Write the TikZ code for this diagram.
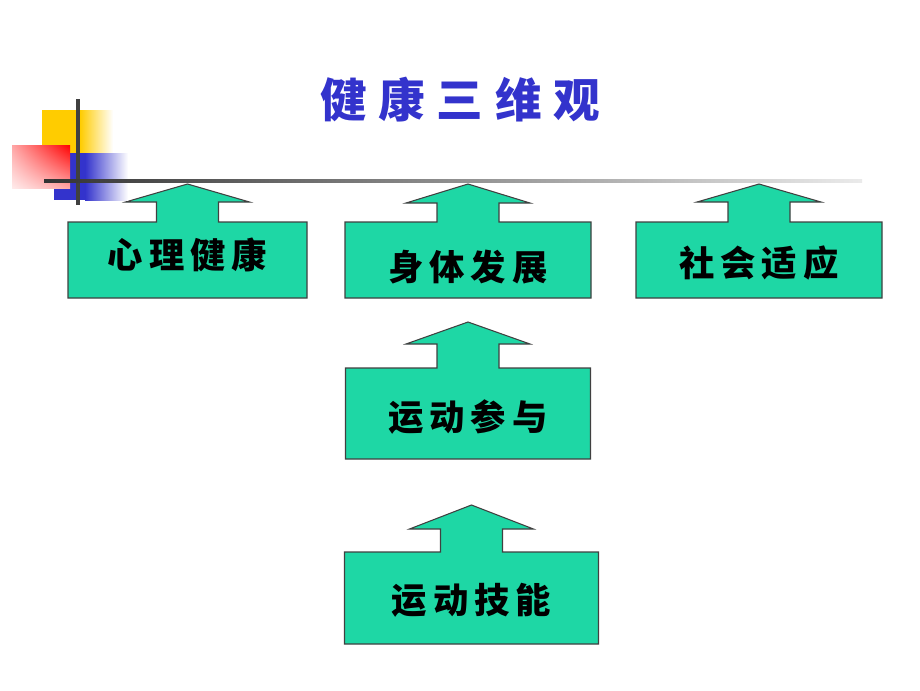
\documentclass[tikz,border=0pt]{standalone}
\usepackage{fontspec}
\newfontfamily\cjk{Noto Sans CJK SC}[BoldFont={Noto Sans CJK SC Black}]
\usetikzlibrary{positioning, calc, backgrounds, shadings}
\definecolor{boxgreen}{RGB}{30,215,165}
\definecolor{titleblue}{RGB}{51,51,204}
\definecolor{decoyellow}{RGB}{255,204,0}
\definecolor{decoblue}{RGB}{51,51,204}
\newcommand\arrowbox[3]{%
  \begin{scope}[on background layer]
  \draw[boxline](#1.south west)--(#1.north west)--($(#1.north)+(-31,0)$)
    --++(0,-#2)--++(-31,0)--($(#1.north)+(0,-#2-#3)$)--($(#1.north)+(62,-#2)$)
    --++(-31,0)--($(#1.north)+(31,0)$)--(#1.north east)--(#1.south east)--cycle;
  \end{scope}}

\begin{document}
\begin{tikzpicture}[x=0.75pt,y=-0.75pt,
    every node/.style={inner sep=0,outer sep=0},
    boxline/.style={fill=boxgreen,draw=black!75,line width=0.8pt},
    boxtext/.style={text height=20pt,text depth=0pt,
      font=\cjk\bfseries\fontsize{26.5pt}{26.5pt}\selectfont\addfontfeature{LetterSpace=17}}]
      \useasboundingbox(0,0)rectangle(920,690);

      \fill[decoyellow](42,110)rectangle(80,160);
      \shade[left color=decoyellow,right color=white](80,110)rectangle(113,160);
      \fill[decoblue](54,153)rectangle(85,200);
      \shade[left color=decoblue,right color=white](85,153)rectangle(128,200);
      \shade[upper right=red,upper left=red!35,lower right=red!35,lower left=red!8](12,145)rectangle(70,188);
      \draw[black!75,line width=2.3pt](78,99)--(78,205);
      \shade[left color=black!80,right color=black!8](44,179.5)rectangle(862,182.5);

      \node(title)[text=titleblue,font=\cjk\bfseries\fontsize{35pt}{35pt}\selectfont\addfontfeature{LetterSpace=25}] at (460,100){健康三维观};

      \node(shenti)[boxtext,minimum width=184.5pt,minimum height=57pt] at (468,260){\raisebox{-5pt}{身体发展}};
      \node(xinli)[boxtext,minimum width=179.25pt,minimum height=57pt,left=28.5pt of shenti]{\raisebox{3.5pt}{心理健康}};
      \node(shehui)[boxtext,minimum width=184.5pt,minimum height=57pt,right=33.75pt of shenti]{\raisebox{-2.2pt}{社会适应}};
      \node(canyu)[boxtext,minimum width=183.75pt,minimum height=68.25pt,below=52.5pt of shenti]{\raisebox{-2.6pt}{运动参与}};
      \node(jineng)[boxtext,minimum width=190.5pt,minimum height=69pt,below=69.75pt of canyu,xshift=2.6pt]{\raisebox{-1.5pt}{运动技能}};

      \arrowbox{xinli}{20}{18}
      \arrowbox{shenti}{19}{19}
      \arrowbox{shehui}{20}{18}
      \arrowbox{canyu}{24}{22}
      \arrowbox{jineng}{23}{24}
    \end{tikzpicture}
\end{document}
